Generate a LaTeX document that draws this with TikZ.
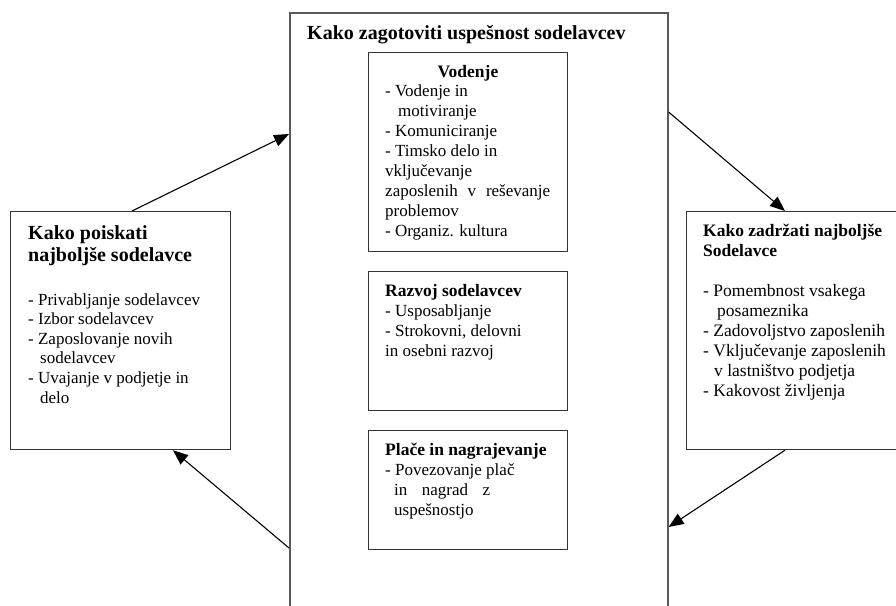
\documentclass[tikz,border=0pt]{standalone}
\usepackage{fontspec}
\setmainfont{Liberation Serif}
\usetikzlibrary{arrows.meta, calc}
\tikzset{
    okvir/.style={draw=black!80, line width=1.2pt, inner sep=0pt, anchor=north west},
    naslov/.style={font=\bfseries\fontsize{17.5}{20}\selectfont, inner sep=0pt, anchor=base west, align=left},
    velikNaslov/.style={font=\bfseries\fontsize{20}{22.7}\selectfont, inner sep=0pt, anchor=base west, align=left},
    seznam/.style={font=\fontsize{17}{20}\selectfont, inner sep=0pt, anchor=base west, align=left},
    puscica/.style={line width=1.1pt, -{Triangle[length=15pt, width=12pt]}}
}

\begin{document}
\begin{tikzpicture}[x=1pt, y=-1pt]
    \path[use as bounding box, clip] (0,0) rectangle (896,605);

    % srednji okvir (base = zadnja vrstica)
    \node [okvir, draw=black!65, line width=1.6pt, minimum width=378pt, minimum height=610pt] (zagotoviti) at (289,12) {};
    \node [velikNaslov] (zagotovitiNaslov) at (307,39.3) {Kako zagotoviti uspešnost sodelavcev};

    \node [okvir, minimum width=199pt, minimum height=199pt] (vodenje) at (368,52) {};
    \node [naslov, anchor=base] (vodenjeNaslov) at (468,77) {Vodenje};
    \node [seznam] (vodenjeSeznam) at (385,236.7) {- Vodenje in\\\hspace*{13pt}motiviranje\\- Komuniciranje\\- Timsko delo in\\vključevanje\\\makebox[165pt][s]{zaposlenih v reševanje}\\problemov\\- Organiz. kultura};

    \node [okvir, minimum width=199pt, minimum height=139pt] (razvoj) at (368,271) {};
    \node [naslov] (razvojNaslov) at (385,296) {Razvoj sodelavcev};
    \node [seznam] (razvojSeznam) at (385,356) {- Usposabljanje\\- Strokovni, delovni\\in osebni razvoj};

    \node [okvir, minimum width=199pt, minimum height=119pt] (place) at (368,430) {};
    \node [naslov] (placeNaslov) at (385,455) {Plače in nagrajevanje};
    \node [seznam] (placeSeznam) at (385,515) {- Povezovanje plač\\\hspace*{9pt}\makebox[96pt][s]{in nagrad z}\\\hspace*{9pt}uspešnostjo};

    % levi okvir
    \node [okvir, minimum width=220pt, minimum height=238pt] (poiskati) at (10,211) {};
    \node [velikNaslov] (poiskatiNaslov) at (28,261.7) {Kako poiskati\\najboljše sodelavce};
    \node [seznam, font=\fontsize{17}{19.6}\selectfont] (poiskatiSeznam) at (28,403) {- Privabljanje sodelavcev\\- Izbor sodelavcev\\- Zaposlovanje novih\\\hspace*{12pt}sodelavcev\\- Uvajanje v podjetje in\\\hspace*{12pt}delo};

    % desni okvir
    \node [okvir, minimum width=220pt, minimum height=238pt] (zadrzati) at (686,211) {};
    \node [naslov] (zadrzatiNaslov) at (703,256.7) {Kako zadržati najboljše\\Sodelavce};
    \node [seznam, font=\fontsize{17.5}{20}\selectfont] (zadrzatiSeznam) at (703,396) {- Pomembnost vsakega\\\hspace*{14pt}posameznika\\- Zadovoljstvo zaposlenih\\- Vključevanje zaposlenih\\\hspace*{11pt}v lastništvo podjetja\\- Kakovost življenja};

    % puscice
    \draw [puscica] ($(poiskati.north west)+(122,0)$) -- ($(zagotoviti.north west)+(0,122)$);
    \draw [puscica] ($(zagotoviti.north east)+(0,100)$) -- ($(zadrzati.north west)+(99,0)$);
    \draw [puscica] ($(zadrzati.south west)+(99,0)$) -- ($(zagotoviti.north east)+(0,515)$);
    \draw [puscica] ($(zagotoviti.north west)+(0,536)$) -- ($(poiskati.south west)+(163,0)$);
\end{tikzpicture}
\end{document}
